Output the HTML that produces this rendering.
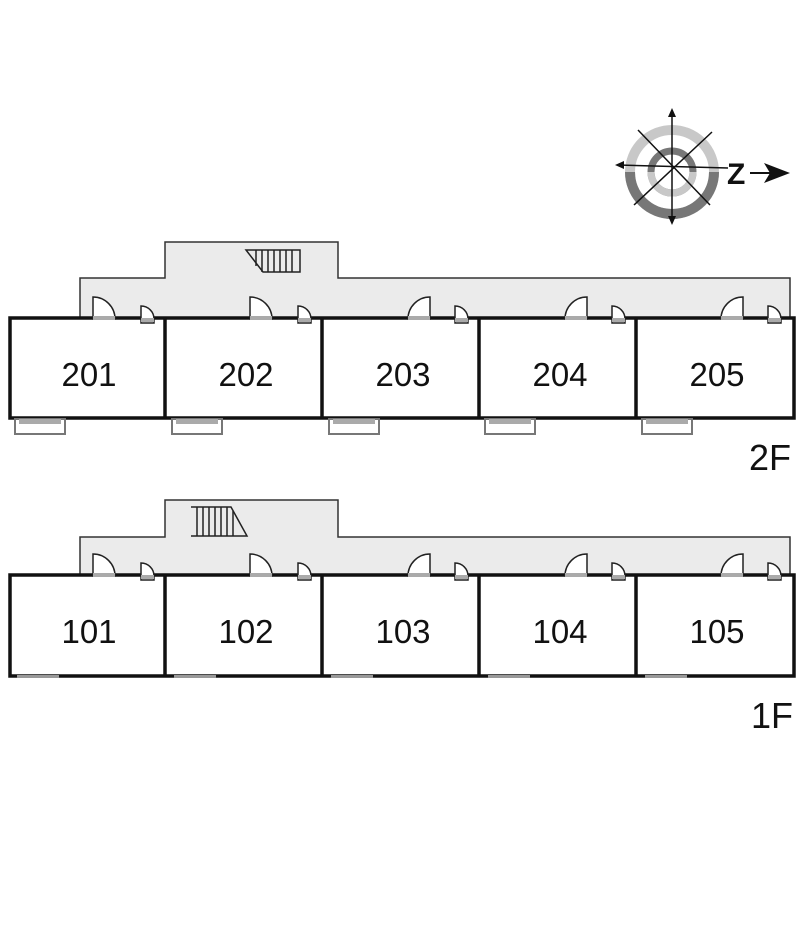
<!DOCTYPE html>
<html><head><meta charset="utf-8"><style>
html,body{margin:0;padding:0;background:#fff;}
svg{display:block;}
text{font-family:"Liberation Sans",sans-serif;fill:#111;}
</style></head><body>
<svg width="800" height="942" viewBox="0 0 800 942" xmlns="http://www.w3.org/2000/svg">
<defs>
  <g id="dR"><path d="M0 22 V0 A22 22 0 0 1 22 22 Z" fill="#fff" stroke="#222" stroke-width="1.5"/><rect x="0" y="19" width="22" height="4" fill="#aaa"/></g>
  <g id="dL"><path d="M22 22 V0 A22 22 0 0 0 0 22 Z" fill="#fff" stroke="#222" stroke-width="1.5"/><rect x="0" y="19" width="22" height="4" fill="#aaa"/></g>
  <g id="sd"><path d="M0 17 V0 A13 13 0 0 1 13 13 V17 Z" fill="#fff" stroke="#222" stroke-width="1.5"/><rect x="0" y="12" width="13" height="4" fill="#aaa"/></g>
  <g id="bal"><rect x="0" y="0" width="50" height="15" fill="#fff" stroke="#777" stroke-width="2"/><rect x="4" y="0" width="42" height="5" fill="#aaa"/></g>
  <g id="bal1"><rect x="5" y="0" width="42" height="3" fill="#999"/></g>
</defs>

<!-- compass -->
<g>
  <circle cx="672" cy="172" r="42" fill="none" stroke="#c8c8c8" stroke-width="10"/>
  <path d="M630 172 A42 42 0 0 0 714 172" fill="none" stroke="#777" stroke-width="10"/>
  <circle cx="672" cy="172" r="21" fill="none" stroke="#777" stroke-width="7"/>
  <path d="M651 172 A21 21 0 0 0 693 172" fill="none" stroke="#c8c8c8" stroke-width="7"/>
  <g stroke="#111" stroke-width="1.5">
    <line x1="672" y1="112" x2="672" y2="222"/>
    <line x1="618" y1="165" x2="728" y2="168"/>
    <line x1="638" y1="130" x2="710" y2="205"/>
    <line x1="712" y1="132" x2="634" y2="205"/>
  </g>
  <path d="M672 108 l-4 9 h8z M672 225 l-4 -9 h8z M615 165 l9 -4 v8z" fill="#111"/>
  <text x="727" y="184" font-size="30" font-weight="bold">Z</text>
  <line x1="750" y1="173" x2="770" y2="173" stroke="#111" stroke-width="2"/>
  <path d="M790 173 L764 163 L770 173 L764 183 Z" fill="#111"/>
</g>

<!-- 2F corridor -->
<path d="M80 318 V278 H165 V242 H338 V278 H790 V318 Z" fill="#ebebeb" stroke="#333" stroke-width="1.5"/>
<g stroke="#222" stroke-width="1.5" fill="none">
  <path d="M246 250 H300 V272 H263 Z"/>
  <line x1="256" y1="250" x2="256" y2="266"/><line x1="262" y1="250" x2="262" y2="272"/><line x1="268" y1="250" x2="268" y2="272"/><line x1="274" y1="250" x2="274" y2="272"/><line x1="280" y1="250" x2="280" y2="272"/><line x1="286" y1="250" x2="286" y2="272"/><line x1="292" y1="250" x2="292" y2="272"/>
</g>
<rect x="10" y="318" width="784" height="100" fill="#fff" stroke="#111" stroke-width="3.5"/>
<g stroke="#111" stroke-width="3.5">
  <line x1="165" y1="318" x2="165" y2="418"/><line x1="322" y1="318" x2="322" y2="418"/><line x1="479" y1="318" x2="479" y2="418"/><line x1="636" y1="318" x2="636" y2="418"/>
</g>
<use href="#dR" x="93" y="297"/><use href="#sd" x="141" y="306"/>
<use href="#dR" x="250" y="297"/><use href="#sd" x="298" y="306"/>
<use href="#dL" x="408" y="297"/><use href="#sd" x="455" y="306"/>
<use href="#dL" x="565" y="297"/><use href="#sd" x="612" y="306"/>
<use href="#dL" x="721" y="297"/><use href="#sd" x="768" y="306"/>
<use href="#bal" x="15" y="419"/><use href="#bal" x="172" y="419"/><use href="#bal" x="329" y="419"/><use href="#bal" x="485" y="419"/><use href="#bal" x="642" y="419"/>
<g font-size="33" text-anchor="middle">
  <text x="89" y="386">201</text><text x="246" y="386">202</text><text x="403" y="386">203</text><text x="560" y="386">204</text><text x="717" y="386">205</text>
</g>
<text x="770" y="470" font-size="36" text-anchor="middle">2F</text>

<!-- 1F corridor -->
<path d="M80 575 V537 H165 V500 H338 V537 H790 V575 Z" fill="#ebebeb" stroke="#333" stroke-width="1.5"/>
<g stroke="#222" stroke-width="1.5" fill="none">
  <path d="M191 507 H231 L247 536 H191"/>
  <line x1="197" y1="507" x2="197" y2="536"/><line x1="203" y1="507" x2="203" y2="536"/><line x1="209" y1="507" x2="209" y2="536"/><line x1="215" y1="507" x2="215" y2="536"/><line x1="221" y1="507" x2="221" y2="536"/><line x1="227" y1="507" x2="227" y2="536"/><line x1="233" y1="511" x2="233" y2="536"/>
</g>
<rect x="10" y="575" width="784" height="101" fill="#fff" stroke="#111" stroke-width="3.5"/>
<g stroke="#111" stroke-width="3.5">
  <line x1="165" y1="575" x2="165" y2="676"/><line x1="322" y1="575" x2="322" y2="676"/><line x1="479" y1="575" x2="479" y2="676"/><line x1="636" y1="575" x2="636" y2="676"/>
</g>
<use href="#dR" x="93" y="554"/><use href="#sd" x="141" y="563"/>
<use href="#dR" x="250" y="554"/><use href="#sd" x="298" y="563"/>
<use href="#dL" x="408" y="554"/><use href="#sd" x="455" y="563"/>
<use href="#dL" x="565" y="554"/><use href="#sd" x="612" y="563"/>
<use href="#dL" x="721" y="554"/><use href="#sd" x="768" y="563"/>
<use href="#bal1" x="12" y="675"/><use href="#bal1" x="169" y="675"/><use href="#bal1" x="326" y="675"/><use href="#bal1" x="483" y="675"/><use href="#bal1" x="640" y="675"/>
<g font-size="33" text-anchor="middle">
  <text x="89" y="643">101</text><text x="246" y="643">102</text><text x="403" y="643">103</text><text x="560" y="643">104</text><text x="717" y="643">105</text>
</g>
<text x="772" y="728" font-size="36" text-anchor="middle">1F</text>
</svg>
</body></html>
